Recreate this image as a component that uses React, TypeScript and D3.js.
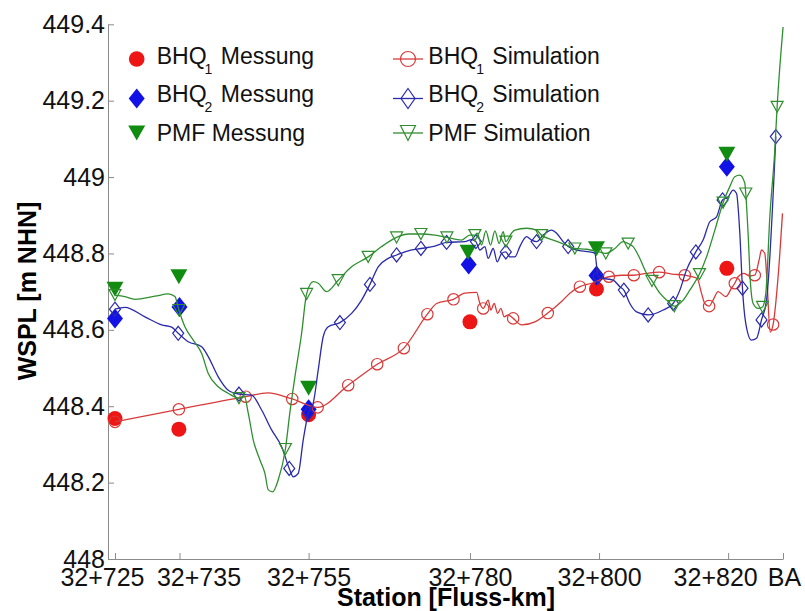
import React, { useEffect, useRef } from "react";
import * as d3 from "d3";

type Pt = [number, number];

// axis ticks
const xTicks = [725, 735, 755, 780, 800, 820, 828.5];
const xTickLabels = ["32+725", "32+735", "32+755", "32+780", "32+800", "32+820", "BA"];
const yTicks = [448, 448.2, 448.4, 448.6, 448.8, 449, 449.2, 449.4];

// measured water levels
const bhq1Mess: Pt[] = [[725, 448.368], [734.9, 448.34], [755, 448.378], [780, 448.621], [799.6, 448.707], [819.8, 448.761]];
const bhq2Mess: Pt[] = [[725, 448.63], [735, 448.66], [755, 448.392], [779.8, 448.771], [799.6, 448.742], [819.8, 449.027]];
const pmfMess: Pt[] = [[725, 448.706], [734.9, 448.739], [755, 448.447], [779.7, 448.803], [799.6, 448.812], [819.8, 449.06]];

// simulated profiles
const bhq1Sim: Pt[] = [
  [725.0, 448.359], [734.9, 448.392], [745.25, 448.425], [748.7, 448.435], [752.46, 448.419],
  [756.4, 448.397], [761.14, 448.455], [765.63, 448.51], [769.76, 448.552], [773.4, 448.641],
  [774.83, 448.669], [777.45, 448.68], [779.21, 448.696], [781.03, 448.698], [781.54, 448.669],
  [782.05, 448.656], [782.82, 448.678], [783.24, 448.652], [783.75, 448.669], [784.28, 448.643],
  [784.79, 448.656], [785.3, 448.634], [785.92, 448.639], [786.69, 448.63], [787.99, 448.613],
  [790.06, 448.621], [792.06, 448.644], [794.19, 448.674], [795.48, 448.696], [797.03, 448.713],
  [798.84, 448.722], [801.52, 448.739], [803.49, 448.743], [805.39, 448.743], [807.36, 448.748],
  [809.31, 448.751], [811.28, 448.746], [813.29, 448.743], [815.19, 448.735], [815.87, 448.696],
  [816.38, 448.669], [817.05, 448.662], [817.67, 448.678], [818.45, 448.7], [819.64, 448.687],
  [820.52, 448.709], [821.03, 448.722], [821.54, 448.739], [822.42, 448.748], [823.35, 448.741],
  [824.13, 448.743], [824.8, 448.783], [825.17, 448.809], [825.68, 448.8], [826.04, 448.722],
  [826.51, 448.594], [826.97, 448.614], [827.74, 448.739], [828.42, 448.905],
];
const bhq1Marks = [725, 734.9, 745.25, 752.46, 756.4, 761.14, 765.63, 769.76, 773.4, 777.45, 782.05,
  786.69, 792.06, 797.03, 801.52, 805.39, 809.31, 813.29, 817.05, 821.03, 824.13, 826.97];

const bhq2Sim: Pt[] = [
  [725.0, 448.654], [726.55, 448.659], [729.65, 448.634], [732.23, 448.613], [733.78, 448.607],
  [734.8, 448.591], [736.35, 448.569], [738.43, 448.556], [739.45, 448.53], [741.0, 448.477],
  [742.55, 448.442], [744.21, 448.432], [746.17, 448.429], [747.72, 448.39], [749.27, 448.338],
  [750.82, 448.294], [752.0, 448.237], [752.62, 448.215], [753.39, 448.224], [754.17, 448.312],
  [754.94, 448.381], [755.72, 448.408], [756.49, 448.495], [757.26, 448.582], [758.04, 448.608],
  [759.85, 448.619], [761.66, 448.643], [763.21, 448.678], [764.5, 448.719], [765.78, 448.765],
  [767.33, 448.787], [768.63, 448.796], [770.43, 448.807], [772.4, 448.813], [774.57, 448.819],
  [776.38, 448.829], [779.21, 448.831], [780.25, 448.836], [780.92, 448.831], [781.54, 448.809],
  [782.31, 448.818], [782.82, 448.787], [783.6, 448.813], [784.22, 448.778], [784.9, 448.8],
  [785.56, 448.804], [786.18, 448.791], [786.96, 448.791], [787.73, 448.818], [788.77, 448.844],
  [789.54, 448.835], [790.32, 448.831], [791.34, 448.848], [792.64, 448.861], [793.42, 448.853],
  [794.44, 448.831], [795.21, 448.818], [796.52, 448.809], [798.57, 448.804], [799.35, 448.8],
  [799.86, 448.739], [800.63, 448.735], [802.18, 448.73], [803.22, 448.713], [803.84, 448.704],
  [804.77, 448.669], [805.81, 448.647], [807.61, 448.639], [809.93, 448.652], [811.48, 448.669],
  [812.52, 448.704], [813.55, 448.757], [814.99, 448.804], [816.12, 448.835], [817.16, 448.883],
  [818.2, 448.896], [819.13, 448.94], [820.0, 448.948], [820.77, 448.966], [821.3, 448.957],
  [821.81, 448.853], [822.22, 448.709], [822.73, 448.617], [823.62, 448.573], [824.4, 448.578],
  [825.17, 448.626], [825.95, 448.678], [827.39, 449.106],
];
const bhq2Marks = [725, 734.8, 744.21, 752.0, 754.94, 759.85, 764.5, 768.63, 772.4, 776.38, 780.92,
  785.56, 790.32, 795.21, 799.86, 803.84, 807.61, 811.48, 814.99, 819.13, 822.22, 825.17, 827.39];

const pmfSim: Pt[] = [
  [725.0, 448.691], [726.55, 448.687], [728.1, 448.68], [731.2, 448.688], [733.26, 448.694],
  [734.29, 448.687], [734.9, 448.652], [735.84, 448.608], [737.13, 448.573], [738.43, 448.538],
  [739.45, 448.486], [741.0, 448.451], [742.55, 448.434], [744.21, 448.421], [745.03, 448.427],
  [745.65, 448.382], [746.42, 448.312], [747.46, 448.259], [748.23, 448.224], [748.75, 448.181],
  [749.43, 448.176], [750.29, 448.207], [751.41, 448.288], [752.11, 448.385], [752.88, 448.477],
  [753.92, 448.591], [754.69, 448.694], [755.72, 448.726], [756.49, 448.722], [757.79, 448.7],
  [759.59, 448.73], [761.66, 448.765], [764.23, 448.791], [766.31, 448.818], [768.63, 448.842],
  [770.43, 448.851], [772.4, 448.851], [774.57, 448.848], [776.43, 448.842], [778.7, 448.835],
  [779.99, 448.848], [780.76, 448.848], [781.12, 448.853], [781.8, 448.822], [782.46, 448.859],
  [783.19, 448.822], [783.86, 448.859], [784.52, 448.826], [785.14, 448.857], [785.56, 448.831],
  [786.44, 448.853], [786.96, 448.861], [788.77, 448.866], [790.32, 448.861], [791.09, 448.848],
  [792.89, 448.835], [794.96, 448.822], [796.25, 448.813], [798.06, 448.811], [799.61, 448.806],
  [801.05, 448.8], [802.45, 448.813], [803.73, 448.831], [804.51, 448.826], [805.28, 448.818],
  [806.32, 448.787], [807.36, 448.748], [808.2, 448.728], [809.42, 448.696], [810.46, 448.678],
  [811.67, 448.662], [813.03, 448.678], [814.06, 448.704], [815.56, 448.746], [816.65, 448.791],
  [817.94, 448.861], [819.22, 448.933], [820.26, 448.975], [821.03, 449.001], [821.81, 449.005],
  [822.58, 448.984], [822.73, 448.957], [823.09, 448.853], [823.46, 448.722], [823.87, 448.669],
  [824.65, 448.656], [825.33, 448.66], [825.84, 448.696], [826.46, 448.896], [827.23, 449.071],
  [827.59, 449.184], [828.51, 449.393],
];
const pmfMarks = [725, 734.9, 744.21, 751.41, 754.69, 759.59, 764.23, 768.63, 772.4, 776.43, 780.76,
  785.56, 791.09, 796.25, 801.05, 804.51, 808.2, 811.67, 815.56, 819.22, 822.73, 825.33, 827.59];

const FONT = "'Liberation Sans', Arial, Helvetica, sans-serif";
const RED = "#ee1515";
const BLUE = "#1212e6";
const GREEN = "#118c11";
const RED_LINE = "#d83a3a";
const BLUE_LINE = "#2a2aaa";
const GREEN_LINE = "#2f8f2f";

// shifted tick labels (as placed in the original figure)
const xLabelShift = [-13, 19, 0, 0, 0, -13, 1];

const diamond = (w: number, h: number) => `M0,${-h}L${w},0L0,${h}L${-w},0Z`;
const triDown = (w: number, h: number) => `M${-w},${-h}L${w},${-h}L0,${h}Z`;

const App = () => {
  const ref = useRef<SVGSVGElement | null>(null);

  useEffect(() => {
    const svg = d3.select(ref.current);
    svg.selectAll("*").remove();

    const x = d3.scaleLinear().domain([723.92, 828.5]).range([108, 783]);
    const y = d3.scaleLinear().domain([448, 449.4]).range([559, 24.3]);

    // axes
    const gx = svg
      .append("g")
      .attr("transform", `translate(0,${y(448)})`)
      .call(
        d3.axisBottom(x)
          .tickValues(xTicks)
          .tickFormat((_d, i) => xTickLabels[i])
          .tickSize(-6)
          .tickSizeOuter(0)
          .tickPadding(9)
      );
    const gy = svg
      .append("g")
      .attr("transform", `translate(${x(723.92)},0)`)
      .call(
        d3.axisLeft(y)
          .tickValues(yTicks)
          .tickFormat((d) => String(+(+d).toFixed(1)))
          .tickSize(-6)
          .tickSizeOuter(0)
          .tickPadding(3)
      );
    [gx, gy].forEach((g) => {
      g.attr("font-size", 25).attr("font-family", FONT);
      g.selectAll("path, line").attr("stroke", "#8a8a8a");
      g.selectAll("text").attr("fill", "#111");
    });
    gx.selectAll(".tick text").attr("dx", (_d, i) => xLabelShift[i]);

    svg
      .append("text")
      .attr("transform", "translate(36,291) rotate(-90)")
      .attr("text-anchor", "middle")
      .attr("font-family", FONT)
      .attr("font-weight", "bold")
      .attr("font-size", 25)
      .text("WSPL [m NHN]");

    svg
      .append("text")
      .attr("x", 446)
      .attr("y", 606)
      .attr("text-anchor", "middle")
      .attr("font-family", FONT)
      .attr("font-weight", "bold")
      .attr("font-size", 25)
      .text("Station [Fluss-km]");

    // measurements
    svg.append("g").selectAll("circle").data(bhq1Mess).enter().append("circle")
      .attr("cx", (d) => x(d[0])).attr("cy", (d) => y(d[1])).attr("r", 7.5).attr("fill", RED);
    svg.append("g").selectAll("path").data(bhq2Mess).enter().append("path")
      .attr("transform", (d) => `translate(${x(d[0])},${y(d[1])})`)
      .attr("d", diamond(8, 10)).attr("fill", BLUE);
    svg.append("g").selectAll("path").data(pmfMess).enter().append("path")
      .attr("transform", (d) => `translate(${x(d[0])},${y(d[1])})`)
      .attr("d", triDown(8.5, 7.5)).attr("fill", GREEN);

    // simulations
    const line = d3.line<Pt>().x((d) => x(d[0])).y((d) => y(d[1])).curve(d3.curveMonotoneX);
    const markPts = (data: Pt[], stations: number[]) =>
      stations.map((s) => data.reduce((a, b) => (Math.abs(b[0] - s) < Math.abs(a[0] - s) ? b : a)));

    const sims = [
      { data: bhq1Sim, marks: bhq1Marks, color: RED_LINE, shape: "circle" },
      { data: bhq2Sim, marks: bhq2Marks, color: BLUE_LINE, shape: "diamond" },
      { data: pmfSim, marks: pmfMarks, color: GREEN_LINE, shape: "tri" },
    ];
    sims.forEach((s) => {
      const g = svg.append("g");
      g.append("path").attr("d", line(s.data)).attr("fill", "none")
        .attr("stroke", s.color).attr("stroke-width", 1.3);
      const pts = markPts(s.data, s.marks);
      if (s.shape === "circle") {
        g.selectAll("circle").data(pts).enter().append("circle")
          .attr("cx", (d) => x(d[0])).attr("cy", (d) => y(d[1])).attr("r", 5.7)
          .attr("fill", "none").attr("stroke", s.color).attr("stroke-width", 1.2);
      } else {
        g.selectAll("path.m").data(pts).enter().append("path")
          .attr("class", "m")
          .attr("transform", (d) => `translate(${x(d[0])},${y(d[1])})`)
          .attr("d", s.shape === "diamond" ? diamond(5.5, 7) : triDown(6, 5.5))
          .attr("fill", "none").attr("stroke", s.color).attr("stroke-width", 1.2);
      }
    });

    // legend
    const rows = [
      { mk: 59, base: 63.5, name: "BHQ", sub: "1" },
      { mk: 98.5, base: 102, name: "BHQ", sub: "2" },
      { mk: 133, base: 140.5, name: "PMF", sub: "" },
    ];
    const lg = svg.append("g").attr("font-family", FONT).attr("font-size", 23).attr("fill", "#111");
    const label = (tx: number, r: typeof rows[number], rest: string) => {
      const t = lg.append("text").attr("x", tx).attr("y", r.base).text(r.name);
      if (r.sub) {
        t.append("tspan").attr("font-size", 14).attr("dy", 10).attr("dx", -2).text(r.sub);
        t.append("tspan").attr("dy", -10).attr("dx", 2).text(" " + rest);
      } else {
        t.append("tspan").text(" " + rest);
      }
    };
    // column 1: measurements
    lg.append("circle").attr("cx", 136.7).attr("cy", rows[0].mk).attr("r", 7.8).attr("fill", RED);
    lg.append("path").attr("transform", `translate(136.7,${rows[1].mk})`).attr("d", diamond(8, 10)).attr("fill", BLUE);
    lg.append("path").attr("transform", `translate(136.7,${rows[2].mk})`).attr("d", triDown(8.5, 7.5)).attr("fill", GREEN);
    rows.forEach((r) => label(156.7, r, "Messung"));
    // column 2: simulations
    const simCols = [RED_LINE, BLUE_LINE, GREEN_LINE];
    rows.forEach((r, i) => {
      lg.append("line").attr("x1", 393).attr("x2", 423).attr("y1", r.mk).attr("y2", r.mk)
        .attr("stroke", simCols[i]).attr("stroke-width", 1.3);
      const m = i === 0
        ? lg.append("circle").attr("cx", 408).attr("cy", r.mk).attr("r", 7.5)
        : lg.append("path").attr("transform", `translate(408,${r.mk})`)
            .attr("d", i === 1 ? diamond(7, 10) : triDown(7.5, 7.5));
      m.attr("fill", "none").attr("stroke", simCols[i]).attr("stroke-width", 1.2);
      label(428.3, r, "Simulation");
    });
  }, []);

  return (
    <svg
      ref={ref}
      width={805}
      height={611}
      style={{ position: "absolute", left: 0, top: 0, background: "#fff" }}
    />
  );
};

export default App;
